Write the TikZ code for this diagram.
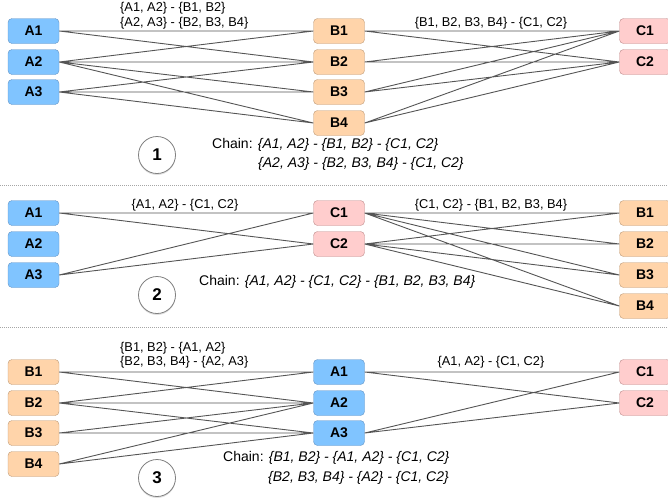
\documentclass[tikz,border=0pt]{standalone}
\usepackage{fontspec}
\setmainfont{Liberation Sans}
\usetikzlibrary{shadows}
\definecolor{AFillClr}{RGB}{128,196,255}
\definecolor{ADrawClr}{RGB}{100,148,196}
\definecolor{BFillClr}{RGB}{255,212,170}
\definecolor{BDrawClr}{RGB}{190,155,120}
\definecolor{CFillClr}{RGB}{255,205,205}
\definecolor{CDrawClr}{RGB}{190,140,140}
\definecolor{EdgeClr}{RGB}{85,85,85}

\begin{document}
\begin{tikzpicture}[x=1pt,y=1pt,
  box/.style={rounded corners=4pt,minimum width=51pt,minimum height=25pt,inner sep=0pt,
    font=\fontsize{14}{14}\selectfont\bfseries},
  boxA/.style={box,fill=AFillClr,draw=ADrawClr},
  boxB/.style={box,fill=BFillClr,draw=BDrawClr},
  boxC/.style={box,fill=CFillClr,draw=CDrawClr},
  edge/.style={EdgeClr,line width=0.9pt},
  lbl/.style={inner sep=0pt,font=\fontsize{12.8}{14}\selectfont},
  chain/.style={inner sep=0pt,anchor=west,font=\fontsize{14}{16}\selectfont},
  numcirc/.style={circle,draw=gray,line width=0.8pt,fill=white,minimum size=37pt,inner sep=0pt,
    font=\fontsize{17}{17}\selectfont\bfseries,
    drop shadow={opacity=0.25,shadow xshift=0pt,shadow yshift=-1.5pt}},
  sep/.style={gray!70,line width=0.7pt,dash pattern=on 1pt off 1pt}]
\useasboundingbox (0,0) rectangle (668,-501);

% panel 1
\node[boxA] (A1) at (33.5,-31) {A1};
\node[boxA] (A2) at (33.5,-62) {A2};
\node[boxA] (A3) at (33.5,-92) {A3};
\node[boxB] (B1) at (339,-31) {B1};
\node[boxB] (B2) at (339,-62) {B2};
\node[boxB] (B3) at (339,-92) {B3};
\node[boxB] (B4) at (339,-123) {B4};
\node[boxC] (C1) at (645,-31) {C1};
\node[boxC] (C2) at (645,-62) {C2};

\draw[edge] (A1.east) -- (B1.west) (A1.east) -- (B2.west)
  (A2.east) -- (B1.west) (A2.east) -- (B2.west) (A2.east) -- (B3.west) (A2.east) -- (B4.west)
  (A3.east) -- (B2.west) (A3.east) -- (B3.west) (A3.east) -- (B4.west);
\draw[edge] (B1.east) -- (C1.west) (B1.east) -- (C2.west)
  (B2.east) -- (C1.west) (B2.east) -- (C2.west)
  (B3.east) -- (C1.west) (B3.east) -- (C2.west)
  (B4.east) -- (C1.west) (B4.east) -- (C2.west);

\node[lbl,anchor=west] (lab1a) at (120,-8) {\{A1, A2\} - \{B1, B2\}};
\node[lbl,anchor=west] (lab1b) at (120,-23) {\{A2, A3\} - \{B2, B3, B4\}};
\node[lbl] (lab1c) at (491,-23) {\{B1, B2, B3, B4\} - \{C1, C2\}};
\node[numcirc] (n1) at (157,-155) {1};
\node[chain] (ch1a) at (212,-145) {Chain: \textit{\{A1, A2\} - \{B1, B2\} - \{C1, C2\}}};
\node[chain] (ch1b) at (258,-164) {\textit{\{A2, A3\} - \{B2, B3, B4\} - \{C1, C2\}}};

\draw[sep] (0,-185) -- (668,-185);

% panel 2
\node[boxA] (A1b) at (33.5,-213) {A1};
\node[boxA] (A2b) at (33.5,-244) {A2};
\node[boxA] (A3b) at (33.5,-275) {A3};
\node[boxC] (C1b) at (339,-213) {C1};
\node[boxC] (C2b) at (339,-244) {C2};
\node[boxB] (B1b) at (645,-213) {B1};
\node[boxB] (B2b) at (645,-244) {B2};
\node[boxB] (B3b) at (645,-275) {B3};
\node[boxB] (B4b) at (645,-306) {B4};

\draw[edge] (A1b.east) -- (C1b.west) (A1b.east) -- (C2b.west)
  (A3b.east) -- (C1b.west) (A3b.east) -- (C2b.west);
\draw[edge] (C1b.east) -- (B1b.west) (C1b.east) -- (B2b.west)
  (C1b.east) -- (B3b.west) (C1b.east) -- (B4b.west)
  (C2b.east) -- (B1b.west) (C2b.east) -- (B2b.west)
  (C2b.east) -- (B3b.west) (C2b.east) -- (B4b.west);

\node[lbl] (lab2a) at (185,-205) {\{A1, A2\} - \{C1, C2\}};
\node[lbl] (lab2b) at (491,-205) {\{C1, C2\} - \{B1, B2, B3, B4\}};
\node[numcirc] (n2) at (157,-295) {2};
\node[chain] (ch2) at (199,-282) {Chain: \textit{\{A1, A2\} - \{C1, C2\} - \{B1, B2, B3, B4\}}};

\draw[sep] (0,-327) -- (668,-327);

% panel 3
\node[boxB] (B1c) at (33.5,-372) {B1};
\node[boxB] (B2c) at (33.5,-403) {B2};
\node[boxB] (B3c) at (33.5,-433) {B3};
\node[boxB] (B4c) at (33.5,-464) {B4};
\node[boxA] (A1c) at (339,-372) {A1};
\node[boxA] (A2c) at (339,-403) {A2};
\node[boxA] (A3c) at (339,-433) {A3};
\node[boxC] (C1c) at (645,-372) {C1};
\node[boxC] (C2c) at (645,-403) {C2};

\draw[edge] (B1c.east) -- (A1c.west) (B1c.east) -- (A2c.west)
  (B2c.east) -- (A1c.west) (B2c.east) -- (A2c.west) (B2c.east) -- (A3c.west)
  (B3c.east) -- (A2c.west) (B3c.east) -- (A3c.west)
  (B4c.east) -- (A2c.west) (B4c.east) -- (A3c.west);
\draw[edge] (A1c.east) -- (C1c.west) (A1c.east) -- (C2c.west)
  (A3c.east) -- (C1c.west) (A3c.east) -- (C2c.west);

\node[lbl,anchor=west] (lab3a) at (120,-348) {\{B1, B2\} - \{A1, A2\}};
\node[lbl,anchor=west] (lab3b) at (120,-362) {\{B2, B3, B4\} - \{A2, A3\}};
\node[lbl] (lab3c) at (491,-362) {\{A1, A2\} - \{C1, C2\}};
\node[numcirc] (n3) at (157,-478) {3};
\node[chain] (ch3a) at (223,-458) {Chain: \textit{\{B1, B2\} - \{A1, A2\} - \{C1, C2\}}};
\node[chain] (ch3b) at (268,-478) {\textit{\{B2, B3, B4\} - \{A2\} - \{C1, C2\}}};
\end{tikzpicture}
\end{document}
